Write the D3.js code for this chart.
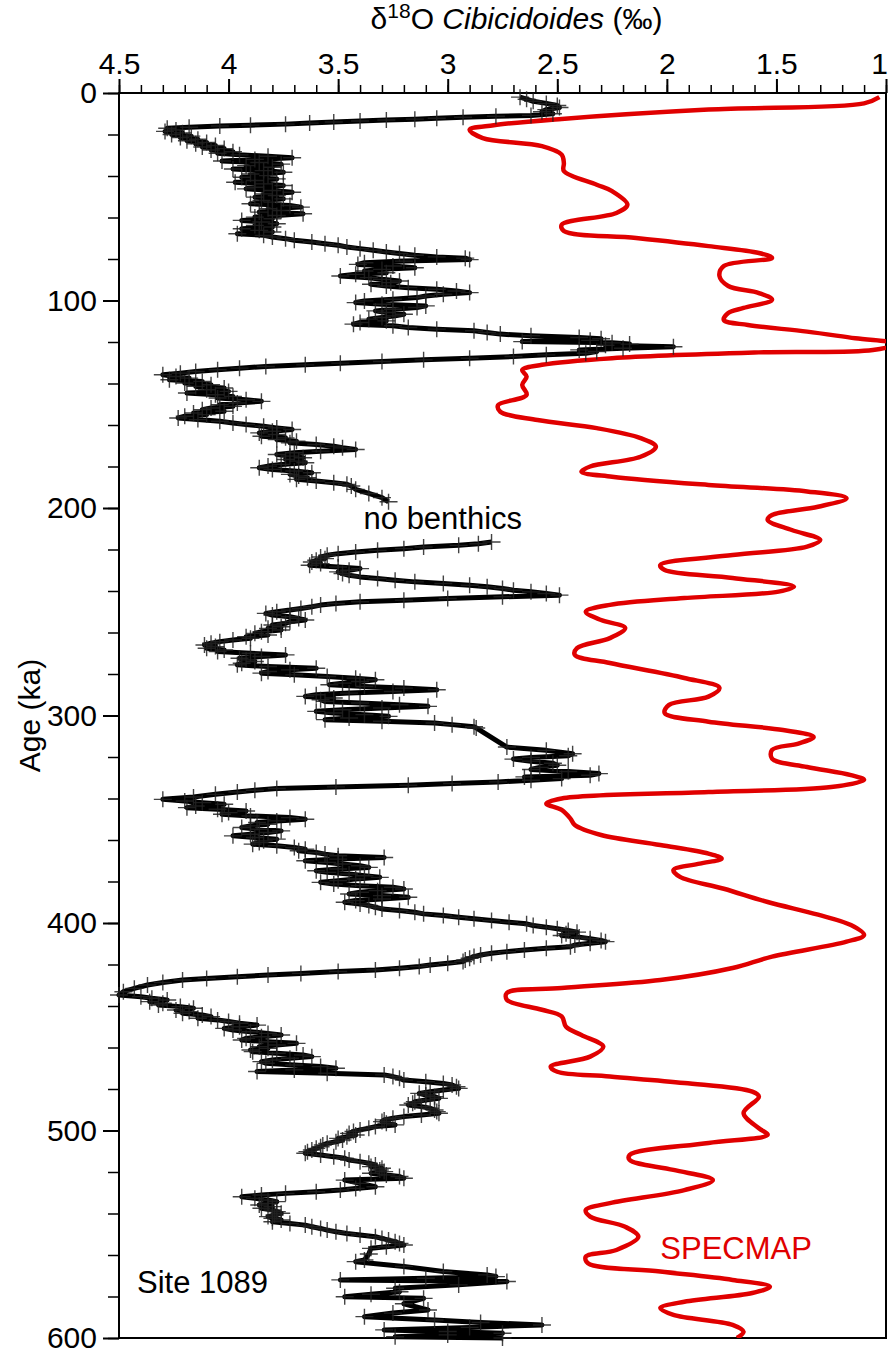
<!DOCTYPE html>
<html>
<head>
<meta charset="utf-8">
<script src="https://d3js.org/d3.v7.min.js"></script>
<style>
  body { margin: 0; background: #fff; }
  svg text { font-family: "Liberation Sans", Arial, Helvetica, sans-serif; }
</style>
</head>
<body>
<div id="chart"></div>
<script>
// Site 1089 benthic d18O (Cibicidoides), age in ka
const siteAge = [
  2.0, 3.0, 4.0, 5.0, 6.0, 7.0, 8.0, 9.0, 10.0, 10.8,
  11.2, 11.7, 12.2, 12.6, 13.0, 13.5, 14.0, 14.5, 15.0, 15.5, 15.9, 16.5, 17.0,
  17.8, 18.5, 19.2, 20.0, 20.8, 21.5, 22.3, 23.0, 23.8, 24.5, 25.3, 26.0, 26.8, 27.5, 28.3, 29.0, 29.8,
  30.5, 31.2, 32.0, 32.8, 33.5, 34.3, 35.0, 35.8, 36.6, 37.4, 38.2, 39.0, 39.8, 40.6, 41.4, 42.2, 43.0,
  43.8, 44.6, 45.4, 46.2, 47.0, 47.8, 48.6, 49.4, 50.2, 51.0, 51.8, 52.6, 53.4, 54.2, 55.0, 55.8, 56.6,
  57.4, 58.2, 59.0, 59.8, 60.6, 61.4, 62.2, 63.0, 63.8, 64.6, 65.4, 66.2, 67.0, 67.8, 68.6, 69.4,
  70.2, 71.0, 71.8, 72.6, 73.4, 74.2, 75.0, 75.8, 76.6, 77.4, 78.2,
  79.0, 79.6, 80.3, 81.0, 81.8, 82.6, 83.4, 84.2, 85.0, 85.8, 86.6, 87.4, 88.2, 89.0, 89.8, 90.6, 91.4,
  92.2, 93.0, 93.8, 94.6, 95.4, 96.2, 97.0, 97.8, 98.6, 99.4, 100.2, 101.0, 101.8, 102.6, 103.4, 104.2,
  105.0, 105.8, 106.6, 107.4, 108.2, 109.0, 109.8, 110.6, 111.4, 112.2, 113.0,
  113.8, 114.6, 115.4, 116.2, 117.0, 117.8, 118.4, 119.2, 119.8, 120.4, 121.0, 121.6, 122.3, 123.0, 123.8, 124.6, 125.4,
  126.2, 127.0, 127.8, 128.6, 129.4, 130.2, 131.0, 131.8, 132.6, 133.4, 134.2, 135.0, 135.8,
  136.6, 137.4, 138.2, 139.0, 139.8, 140.6, 141.4, 142.2, 143.0, 143.8, 144.6, 145.4, 146.2, 147.0, 147.8,
  148.6, 149.4, 150.2, 151.0, 151.8, 152.6, 153.4, 154.2, 155.0, 155.8, 156.6, 157.4, 158.2, 159.0, 159.8,
  160.6, 161.4, 162.2, 163.0, 163.8, 164.6, 165.4, 166.2, 167.0, 167.8, 168.6, 169.4, 170.2, 171.0, 171.8,
  172.6, 173.4, 174.2, 175.0, 175.8, 176.6, 177.4, 178.2, 179.0, 179.8, 180.6, 181.4, 182.2, 183.0, 183.8,
  184.6, 185.4, 186.2, 187.0, 187.8, 188.6, 189.4, 191.0, 193.0, 195.0, 197.0,
  216.4, 217.2, 218.0, 218.8, 219.6, 220.4, 221.2, 222.0, 222.8, 223.6, 224.4, 225.2, 226.0, 226.8, 227.6,
  228.4, 229.2, 230.0, 230.8, 231.6, 232.4, 233.2, 234.0, 234.8, 235.6, 236.4, 237.2, 238.0, 238.8, 239.6,
  240.4, 241.2, 242.0, 242.8, 243.6, 244.4, 245.2, 246.0, 246.8, 247.6, 248.4, 249.2, 250.0, 250.8, 251.6,
  252.4, 253.2, 254.0, 254.8, 255.6, 256.4, 257.2, 258.0, 258.8, 259.6, 260.4, 261.2, 262.0, 262.8, 263.6,
  264.4, 265.2, 266.0, 266.8, 267.6, 268.4, 269.2, 270.0, 270.8, 271.6, 272.4, 273.2, 274.0, 274.8, 275.6,
  276.4, 277.2, 278.0, 278.8, 279.6, 280.4, 281.2, 282.0, 282.8, 283.6, 284.4, 285.2, 286.0, 286.8, 287.6,
  288.4, 289.2, 290.0, 290.8, 291.6, 292.4, 293.2, 294.0, 294.8, 295.6, 296.4, 297.2, 298.0, 298.8, 299.6,
  300.4, 301.2, 302.0, 302.8, 303.6, 304.4, 305.4, 306.0,
  315.2, 316.8, 318.4, 319.4, 320.2, 321.0, 322.0, 323.0, 324.0, 325.0, 326.0, 327.0, 328.0, 328.8, 329.6, 330.4,
  331.2, 332.0, 332.8, 333.6, 334.4, 335.2, 336.0, 336.9, 338.0, 339.3, 340.4,
  341.2, 342.0, 342.8, 343.6, 344.4, 345.2, 346.0, 346.8, 347.6, 348.4, 349.2, 350.0, 350.8, 351.6, 352.4,
  353.2, 354.0, 354.8, 355.6, 356.4, 357.2, 358.0, 358.8, 359.6, 360.4, 361.2, 362.0, 362.8, 363.6, 364.4,
  365.2, 366.0, 366.8, 367.6, 368.4, 369.2, 370.0, 370.8, 371.6, 372.4, 373.2, 374.0, 374.8, 375.6, 376.4,
  377.2, 378.0, 378.8, 379.6, 380.4, 381.2, 382.0, 382.8, 383.6, 384.4, 385.2, 386.0, 386.8, 387.6, 388.4,
  389.2, 390.0, 390.8, 391.6, 392.4, 393.2, 394.0, 394.8, 395.6, 396.4, 397.2, 398.0, 398.8, 399.6, 400.4,
  401.2, 402.0, 402.8, 403.6, 404.4, 405.2, 406.0, 406.8, 407.6, 408.4, 409.0, 409.8, 410.6, 411.4, 412.2,
  413.0, 413.8, 414.6, 415.4, 416.2, 417.0, 417.8, 418.6, 419.4, 420.2, 421.0, 421.8, 422.6, 423.4, 424.3,
  425.1, 425.9, 426.7, 427.5, 428.7, 429.9, 431.5, 433.1, 434.7,
  435.5, 436.3, 437.1, 437.9, 438.7, 439.5, 440.3, 441.1, 441.9, 442.7, 443.5, 444.3, 445.1, 445.9, 446.7,
  447.5, 448.3, 449.2, 450.0, 450.8, 451.6, 452.4, 453.2, 454.0, 454.8, 455.6, 456.4, 457.2, 458.0, 458.8,
  459.6, 460.4, 461.2, 462.0, 462.8, 463.6, 464.4, 465.2, 466.0, 466.8, 467.6, 468.4, 469.2, 470.0, 470.8,
  471.6, 472.4, 473.2, 474.0, 474.8, 475.7, 476.5, 477.3, 478.1, 478.9, 479.7, 480.5, 481.3, 482.1, 482.9,
  483.7, 484.5, 485.3, 486.1, 486.9, 487.7, 488.5, 489.3, 490.1, 490.9, 491.7, 492.5, 493.3, 494.1, 494.9,
  495.7, 496.5, 497.3, 498.1, 498.9, 499.7, 500.5, 501.4, 502.2, 503.0, 503.8, 504.6, 505.4, 506.2, 507.0,
  507.8, 508.6, 509.4, 510.2, 511.0, 511.8, 512.6, 513.4, 514.2, 515.0, 515.8, 516.6, 517.4, 518.2, 519.0,
  519.8, 520.6, 521.4, 522.2, 523.0, 523.9, 525.5, 527.1, 527.9, 528.7, 529.5, 530.3, 531.1, 531.9, 532.7,
  533.5, 534.3, 535.1, 535.9, 536.7, 537.5, 538.3, 539.1, 539.9, 540.7, 541.5, 542.3, 543.1, 544.0, 544.8,
  545.6, 546.4, 547.2, 548.0, 548.8, 549.6, 550.4, 551.2, 552.0, 552.8, 553.6, 554.4, 555.2, 556.0, 556.8,
  559.5, 562.4, 563.2, 565.5, 568.0, 569.6, 570.4, 571.2, 572.0, 572.8, 574.4, 576.0, 577.7, 578.9, 580.1,
  580.9, 583.5, 586.5, 588.0, 589.7, 591.3, 592.5, 593.7, 594.9, 596.1, 596.9, 597.7, 598.5, 599.4, 600.0
];
const siteD18O = [
  2.67, 2.64, 2.61, 2.55, 2.50, 2.49, 2.55, 2.57, 2.52, 2.62,
  2.78, 2.93, 3.05, 3.15, 3.28, 3.40, 3.52, 3.63, 3.74, 3.90, 4.04, 4.18, 4.28,
  4.24, 4.29, 4.21, 4.26, 4.17, 4.22, 4.14, 4.19, 4.10, 4.15, 4.06, 4.12, 4.02, 4.08, 3.98, 4.05, 3.95,
  3.82, 3.71, 3.88, 4.03, 3.86, 3.76, 3.92, 3.80, 3.98, 3.84, 3.75, 3.90, 3.82, 3.94, 3.78, 3.88, 3.97,
  3.84, 3.75, 3.88, 3.92, 3.80, 3.71, 3.84, 3.78, 3.88, 3.75, 3.85, 3.80, 3.90, 3.72, 3.67, 3.82, 3.76,
  3.86, 3.66, 3.78, 3.88, 3.80, 3.94, 3.85, 3.78, 3.88, 3.80, 3.94, 3.86, 3.80, 3.96, 3.84, 3.80,
  3.74, 3.70, 3.62, 3.56, 3.50, 3.46, 3.40, 3.34, 3.28, 3.22, 3.15,
  3.05, 2.92, 2.90, 3.20, 3.38, 3.41, 3.25, 3.15, 3.30, 3.38, 3.28, 3.42, 3.49, 3.36, 3.30, 3.22, 3.26,
  3.35, 3.28, 3.18, 3.05, 2.96, 2.90, 3.02, 3.10, 3.14, 3.25, 3.38, 3.42, 3.30, 3.10, 3.14, 3.25,
  3.33, 3.28, 3.20, 3.24, 3.30, 3.36, 3.28, 3.40, 3.43, 3.25, 3.18,
  3.05, 2.88, 2.82, 2.76, 2.62, 2.40, 2.30, 2.35, 2.66, 2.25, 2.17, 2.28, 1.97, 2.20, 2.40, 2.32, 2.37,
  2.55, 2.70, 2.90, 3.11, 3.30, 3.49, 3.65, 3.83, 3.95, 4.05, 4.15, 4.22, 4.30,
  4.24, 4.18, 4.27, 4.12, 4.20, 4.08, 4.15, 4.02, 4.10, 4.00, 4.19, 4.06, 3.98, 4.05, 3.92,
  3.85, 3.96, 4.04, 3.98, 4.08, 4.12, 4.02, 4.16, 4.10, 4.20, 4.23, 4.14, 4.04, 3.98, 3.92,
  3.84, 3.78, 3.71, 3.80, 3.86, 3.78, 3.85, 3.74, 3.78, 3.69, 3.72, 3.60, 3.52, 3.48, 3.42,
  3.58, 3.70, 3.78, 3.72, 3.66, 3.74, 3.68, 3.65, 3.76, 3.82, 3.86, 3.80, 3.70, 3.62, 3.72,
  3.68, 3.64, 3.69, 3.60, 3.52, 3.46, 3.44, 3.42, 3.36, 3.30, 3.27,
  2.80, 2.86, 2.95, 3.11, 3.20, 3.32, 3.42, 3.50, 3.55, 3.58, 3.56, 3.60, 3.62, 3.58, 3.63,
  3.50, 3.40, 3.45, 3.50, 3.48, 3.45, 3.40, 3.32, 3.24, 3.15, 3.02, 2.90, 2.82, 2.75, 2.70,
  2.62, 2.55, 2.49, 2.75, 3.00, 3.20, 3.40, 3.51, 3.58, 3.62, 3.67, 3.72, 3.78, 3.83, 3.80,
  3.72, 3.68, 3.65, 3.72, 3.74, 3.80, 3.76, 3.82, 3.76, 3.85, 3.88, 3.82, 3.92, 3.90, 3.98,
  4.04, 4.08, 4.11, 4.06, 4.10, 4.02, 4.05, 3.90, 3.74, 3.85, 3.95, 3.92, 3.88, 3.94, 3.96,
  3.82, 3.60, 3.72, 3.82, 3.85, 3.70, 3.55, 3.42, 3.33, 3.40, 3.48, 3.54, 3.38, 3.20, 3.05,
  3.25, 3.45, 3.60, 3.65, 3.52, 3.58, 3.56, 3.40, 3.22, 3.09, 3.30, 3.48, 3.60, 3.52, 3.38,
  3.27, 3.45, 3.56, 3.30, 3.06, 2.98, 2.88, 2.87,
  2.73, 2.55, 2.43, 2.45, 2.62, 2.70, 2.62, 2.52, 2.50, 2.58, 2.62, 2.45, 2.31, 2.35, 2.65, 2.48,
  2.62, 2.77, 2.98, 3.18, 3.51, 3.78, 3.88, 3.96, 4.06, 4.16, 4.30,
  4.20, 4.12, 4.02, 4.15, 4.19, 4.05, 3.92, 4.00, 4.03, 3.90, 3.72, 3.65, 3.78, 3.87, 3.82,
  3.90, 3.94, 3.86, 3.76, 3.82, 3.90, 3.98, 3.88, 3.78, 3.84, 3.86, 3.89, 3.78, 3.70, 3.65,
  3.68, 3.60, 3.56, 3.50, 3.29, 3.50, 3.65, 3.55, 3.48, 3.40, 3.36, 3.50, 3.60, 3.55, 3.45,
  3.38, 3.31, 3.42, 3.50, 3.58, 3.52, 3.40, 3.25, 3.20, 3.32, 3.40, 3.45, 3.30, 3.18, 3.30,
  3.42, 3.47, 3.40, 3.36, 3.33, 3.30, 3.22, 3.15, 3.11, 3.02, 2.95, 2.88, 2.80, 2.72, 2.64,
  2.61, 2.55, 2.50, 2.45, 2.41, 2.46, 2.48, 2.40, 2.35, 2.30, 2.28, 2.35, 2.42, 2.44, 2.55,
  2.65, 2.73, 2.80, 2.85, 2.88, 2.90, 2.92, 2.93, 3.00, 3.08, 3.13, 3.22, 3.33, 3.50, 3.67,
  3.82, 3.96, 4.10, 4.21, 4.30, 4.37, 4.43, 4.48, 4.50,
  4.40, 4.35, 4.28, 4.36, 4.30, 4.32, 4.22, 4.16, 4.24, 4.18, 4.21, 4.12, 4.08, 4.14, 4.05,
  4.00, 3.95, 3.87, 3.95, 4.02, 3.98, 3.90, 3.82, 3.76, 3.85, 3.92, 3.94, 3.82, 3.69, 3.78,
  3.86, 3.82, 3.90, 3.89, 3.78, 3.66, 3.62, 3.72, 3.80, 3.85, 3.83, 3.70, 3.58, 3.51, 3.70,
  3.87, 3.55, 3.29, 3.25, 3.22, 3.20, 3.10, 3.02, 2.98, 2.96, 2.95, 3.02, 3.08, 3.13, 3.10,
  3.06, 3.04, 3.10, 3.15, 3.16, 3.18, 3.12, 3.08, 3.06, 3.05, 3.04, 3.12, 3.20, 3.25, 3.29,
  3.30, 3.28, 3.24, 3.33, 3.36, 3.40, 3.43, 3.45, 3.42, 3.46, 3.50, 3.48, 3.51, 3.55, 3.57,
  3.58, 3.60, 3.62, 3.64, 3.65, 3.58, 3.52, 3.47, 3.45, 3.40, 3.36, 3.33, 3.35, 3.30, 3.31,
  3.29, 3.35, 3.28, 3.22, 3.20, 3.47, 3.40, 3.33, 3.42, 3.49, 3.60, 3.74, 3.85, 3.94, 3.88,
  3.82, 3.78, 3.82, 3.86, 3.80, 3.85, 3.80, 3.78, 3.76, 3.79, 3.82, 3.80, 3.76, 3.80, 3.72,
  3.65, 3.62, 3.58, 3.55, 3.51, 3.46, 3.40, 3.33, 3.30, 3.27, 3.24, 3.22, 3.20, 3.28, 3.35,
  3.36, 3.38, 3.42, 3.20, 3.02, 2.82, 2.78, 3.10, 3.49, 2.73, 2.95, 3.24, 3.22, 3.35, 3.47,
  3.11, 3.20, 3.09, 3.25, 3.38, 3.06, 2.85, 2.57, 2.90, 3.29, 3.00, 2.75, 3.00, 3.24, 2.75
];
// the core has no benthic foraminifera between these ages
const gapStart = 198, gapEnd = 215;

// SPECMAP stack, age in ka
const specAge = [
  2, 5, 8, 12.5, 15.5, 17.7, 21.7, 25.6, 29.7, 33.7, 37.6, 44.2, 47.3, 53.8, 57.8, 63.5, 66.5, 69.9,
  73.8, 77.1, 79.5, 83.4, 88.2, 93, 96.4, 99.6, 103.6, 106, 109.4, 111.8, 115, 118.2, 120.8, 123.9, 125,
  127.8, 131, 133.5, 136.7, 140.7, 145.5, 150.4, 153.6, 157.6, 161.5, 166.3, 170.4, 175.3, 180, 182.5,
  184.9, 188.9, 192, 195.3, 199.4, 203.4, 205.8, 210.6, 215.4, 218.6, 222.7, 227.5, 229.9, 233.7, 237.9,
  240.3, 243.4, 246.7, 250, 254, 257.8, 262.7, 267.5, 270.8, 274.7, 281.9, 286.7, 290.9, 294.9, 298.8,
  303, 307, 310.4, 313.5, 316.6, 320.8, 324.8, 328.7, 331, 334.5, 336.9, 340, 342.5, 345.5, 349.7, 352.8,
  357.6, 362.4, 366.6, 369, 371.4, 374.5, 377.8, 383.5, 389.9, 396, 401, 405.8, 409, 416.2, 421.7, 427.5,
  431.3, 433.7, 437, 441.8, 445, 450, 454, 459.6, 464.4, 469.2, 471.7, 474, 477.1, 481.3, 483.7, 491.6,
  498.9, 502, 506, 511.8, 514.2, 519, 523.9, 528.7, 535, 538.3, 541.5, 546.4, 551.2, 557.6, 560.8, 564,
  568, 572, 575.3, 578.3, 582.5, 585.6, 588.9, 593.7, 597, 600
];
const specD18O = [
  1.03, 1.10, 1.81, 2.48, 2.79, 2.90, 2.84, 2.57, 2.48, 2.47, 2.47, 2.32, 2.25, 2.18, 2.23, 2.48, 2.47, 2.14,
  1.81, 1.58, 1.52, 1.74, 1.76, 1.72, 1.58, 1.52, 1.65, 1.72, 1.74, 1.63, 1.36, 1.14, 0.95, 1.06, 1.58,
  2.25, 2.57, 2.66, 2.64, 2.66, 2.64, 2.77, 2.76, 2.59, 2.32, 2.12, 2.05, 2.12, 2.35, 2.39,
  2.25, 1.81, 1.36, 1.18, 1.31, 1.52, 1.54, 1.43, 1.30, 1.36, 1.70, 2.03, 2.01, 1.70, 1.42,
  1.49, 1.92, 2.26, 2.37, 2.30, 2.19, 2.26, 2.41, 2.42, 2.26, 1.92, 1.76, 1.81, 1.99, 2.01,
  1.81, 1.47, 1.33, 1.40, 1.52, 1.52, 1.36, 1.16, 1.10, 1.25, 1.81, 2.48, 2.55, 2.48, 2.44, 2.42,
  2.30, 2.03, 1.81, 1.75, 1.85, 1.97, 1.94, 1.74, 1.54, 1.31, 1.16, 1.10, 1.18, 1.52, 1.70, 2.03,
  2.48, 2.73, 2.73, 2.57, 2.48, 2.46, 2.39, 2.29, 2.35, 2.53, 2.50, 2.26, 1.92, 1.61, 1.58, 1.65,
  1.58, 1.54, 1.81, 2.17, 2.17, 1.97, 1.79, 1.92, 2.26, 2.37, 2.35, 2.19, 2.13, 2.23, 2.37, 2.36,
  2.03, 1.70, 1.53, 1.61, 1.92, 2.03, 1.97, 1.70, 1.65, 1.68
];

const xTicks = [4.5, 4, 3.5, 3, 2.5, 2, 1.5, 1];
const yTicks = [0, 100, 200, 300, 400, 500, 600];

const margin = { top: 93, right: 3, bottom: 19, left: 119 },
    width = 889 - margin.left - margin.right,
    height = 1357 - margin.top - margin.bottom;

const svg = d3.select("#chart")
    .append("svg")
    .attr("width", 889)
    .attr("height", 1357)
    .append("g")
    .attr("transform", `translate(${margin.left},${margin.top})`);

const x = d3.scaleLinear().domain([4.5, 1]).range([0, width]);
const y = d3.scaleLinear().domain([0, 600]).range([0, height]);

const site = siteAge.map((a, i) => ({ age: a, v: siteD18O[i] }));
const spec = specAge.map((a, i) => ({ age: a, v: specD18O[i] }));

svg.append("clipPath").attr("id", "plot-clip")
    .append("rect").attr("width", width).attr("height", height);

// minor ticks
svg.append("g")
    .call(d3.axisTop(x).tickValues(d3.range(45, 9, -1).map(d => d / 10)).tickSize(8).tickFormat(""))
    .call(g => g.select(".domain").remove())
    .call(g => g.selectAll("line").attr("stroke-width", 1.5));
svg.append("g")
    .call(d3.axisLeft(y).tickValues(d3.range(0, 601, 20)).tickSize(11).tickFormat(""))
    .call(g => g.select(".domain").remove())
    .call(g => g.selectAll("line").attr("stroke-width", 1.5));

// major ticks with labels
svg.append("g")
    .call(d3.axisTop(x).tickValues(xTicks).tickSize(14).tickPadding(5).tickFormat(d3.format("")))
    .call(g => g.select(".domain").remove())
    .call(g => g.selectAll("line").attr("stroke-width", 2))
    .call(g => g.selectAll("text").style("font-size", "30px").attr("fill", "#000"))
    .call(g => g.selectAll("text").filter(d => d === 1).attr("dx", -7));
svg.append("g")
    .call(d3.axisLeft(y).tickValues(yTicks).tickSize(16).tickPadding(6).tickFormat(d3.format("d")))
    .call(g => g.select(".domain").remove())
    .call(g => g.selectAll("line").attr("stroke-width", 2))
    .call(g => g.selectAll("text").style("font-size", "30px").attr("fill", "#000"));

// frame
svg.append("rect")
    .attr("width", width)
    .attr("height", height)
    .attr("fill", "none")
    .attr("stroke", "#000")
    .attr("stroke-width", 2);

// SPECMAP
svg.append("path")
    .datum(spec)
    .attr("clip-path", "url(#plot-clip)")
    .attr("fill", "none")
    .attr("stroke", "#e00000")
    .attr("stroke-width", 4.5)
    .attr("d", d3.line().curve(d3.curveCatmullRom).x(d => x(d.v)).y(d => y(d.age)));

// Site 1089 line, in two pieces around the gap
const siteLine = d3.line().x(d => x(d.v)).y(d => y(d.age));
[site.filter(d => d.age < gapStart), site.filter(d => d.age > gapEnd)].forEach(part => {
    svg.append("path")
        .datum(part)
        .attr("fill", "none")
        .attr("stroke", "#000")
        .attr("stroke-width", 5)
        .attr("stroke-linejoin", "round")
        .attr("d", siteLine);
});

// + markers
svg.append("g")
    .selectAll("path")
    .data(site)
    .join("path")
    .attr("transform", d => `translate(${x(d.v)},${y(d.age)})`)
    .attr("d", "M-9,0H9M0,-8V8")
    .attr("stroke", "#222")
    .attr("stroke-opacity", 0.85)
    .attr("stroke-width", 1.4);

// labels
svg.append("text")
    .attr("x", x(3.27) - 25)
    .attr("y", 436)
    .style("font-size", "31px")
    .text("no benthics");

svg.append("text")
    .attr("x", 18)
    .attr("y", 1200)
    .style("font-size", "31px")
    .text("Site 1089");

svg.append("text")
    .attr("x", x(2.03))
    .attr("y", 1166)
    .style("font-size", "31px")
    .attr("fill", "#e00000")
    .text("SPECMAP");

svg.append("text")
    .attr("transform", "rotate(-90)")
    .attr("x", -height / 2)
    .attr("y", -margin.left + 40)
    .attr("text-anchor", "middle")
    .style("font-size", "30px")
    .text("Age (ka)");

const title = svg.append("text")
    .attr("x", width / 2 + 14)
    .attr("y", -margin.top + 29)
    .attr("text-anchor", "middle")
    .style("font-size", "30px");
title.append("tspan").text("δ");
title.append("tspan").attr("dy", -11).style("font-size", "21px").text("18");
title.append("tspan").attr("dy", 11).text("O ");
title.append("tspan").style("font-style", "italic").text("Cibicidoides");
title.append("tspan").text(" (‰)");
</script>
</body>
</html>
